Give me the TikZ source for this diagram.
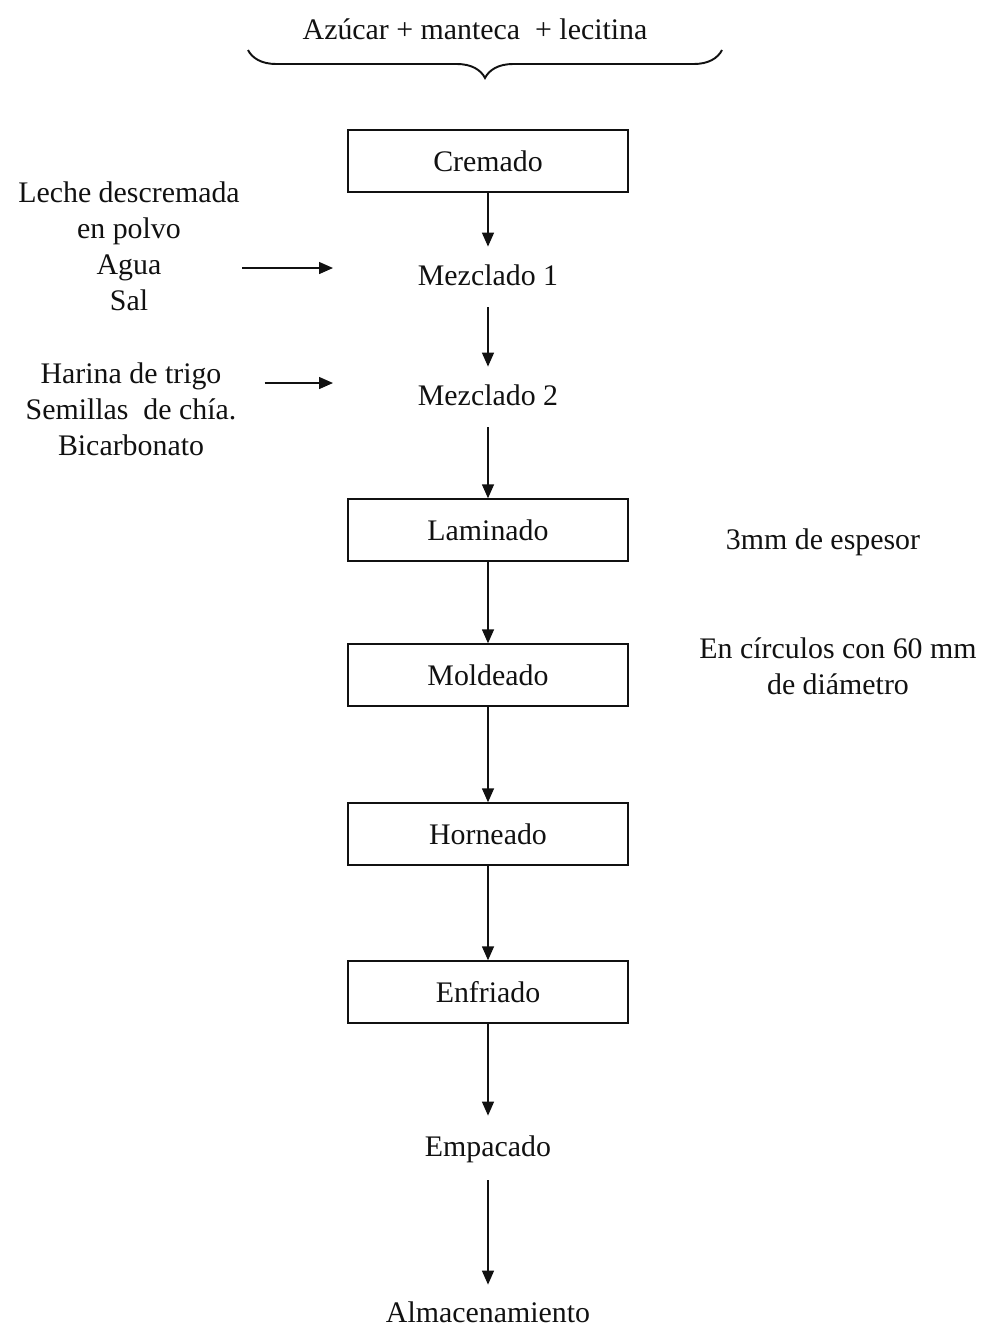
\documentclass[tikz,border=0pt]{standalone}
\usepackage{fontspec}
\setmainfont{Liberation Serif}
\usetikzlibrary{arrows.meta,decorations.pathreplacing}
\definecolor{inkblack}{HTML}{111111}

\tikzset{
  stepbox/.style={draw=inkblack, line width=0.8pt, minimum width=5.6cm, minimum height=1.24cm, inner sep=0pt},
  steptext/.style={inner sep=0pt, text height=12pt, text depth=4pt},
  note/.style={align=center, inner sep=0pt},
  flow/.style={draw=inkblack, line width=0.8pt, -{Triangle[length=0.28cm,width=0.24cm]}},
}

\begin{document}
\begin{tikzpicture}[x=0.02cm, y=-0.02cm, font=\fontsize{17}{20.5}\selectfont, text=inkblack]
\useasboundingbox (0,0) rectangle (987,1329);

% Ingredients on top
\node[note] (top) at (475,29) {Azúcar + manteca \ + lecitina};
\draw[inkblack, line width=1.1pt, decorate, decoration={brace, mirror, amplitude=0.56cm}] (248,50) -- (722,50);

% Main line of steps
\node[stepbox] (crem) at (488,161) {Cremado};
\node[steptext] (mez1) at (488,278) {Mezclado 1};
\node[steptext] (mez2) at (488,398) {Mezclado 2};
\node[stepbox] (lam) at (488,530) {Laminado};
\node[stepbox] (mold) at (488,675) {Moldeado};
\node[stepbox] (horn) at (488,834) {Horneado};
\node[stepbox] (enf) at (488,992) {Enfriado};
\node[steptext] (emp) at (488,1149) {Empacado};
\node[steptext] (alm) at (488,1315) {Almacenamiento};

% Inputs on the left
\node[note] (leche) at (129,246) {Leche descremada\\en polvo\\Agua\\Sal};
\node[note] (harina) at (131,409) {Harina de trigo\\Semillas \ de chía.\\Bicarbonato};
\coordinate (in1) at (333,268);
\coordinate (in2) at (333,383);

% Notes on the right
\node[note] (esp) at (823,542) {3mm de espesor};
\node[note] (diam) at (838,666) {En círculos con 60 mm\\de diámetro};

% Arrows
\draw[flow, shorten >=0.34cm] (crem) -- (mez1);
\draw[flow, shorten <=0.3cm, shorten >=0.34cm] (mez1) -- (mez2);
\draw[flow, shorten <=0.3cm] (mez2) -- (lam);
\draw[flow] (lam) -- (mold);
\draw[flow] (mold) -- (horn);
\draw[flow] (horn) -- (enf);
\draw[flow, shorten >=0.38cm] (enf) -- (emp);
\draw[flow, shorten <=0.34cm, shorten >=0.32cm] (emp) -- (alm);
\draw[flow, shorten <=0.04cm] (leche.east |- in1) -- (in1);
\draw[flow, shorten <=0.56cm] (harina.east |- in2) -- (in2);

\end{tikzpicture}
\end{document}
